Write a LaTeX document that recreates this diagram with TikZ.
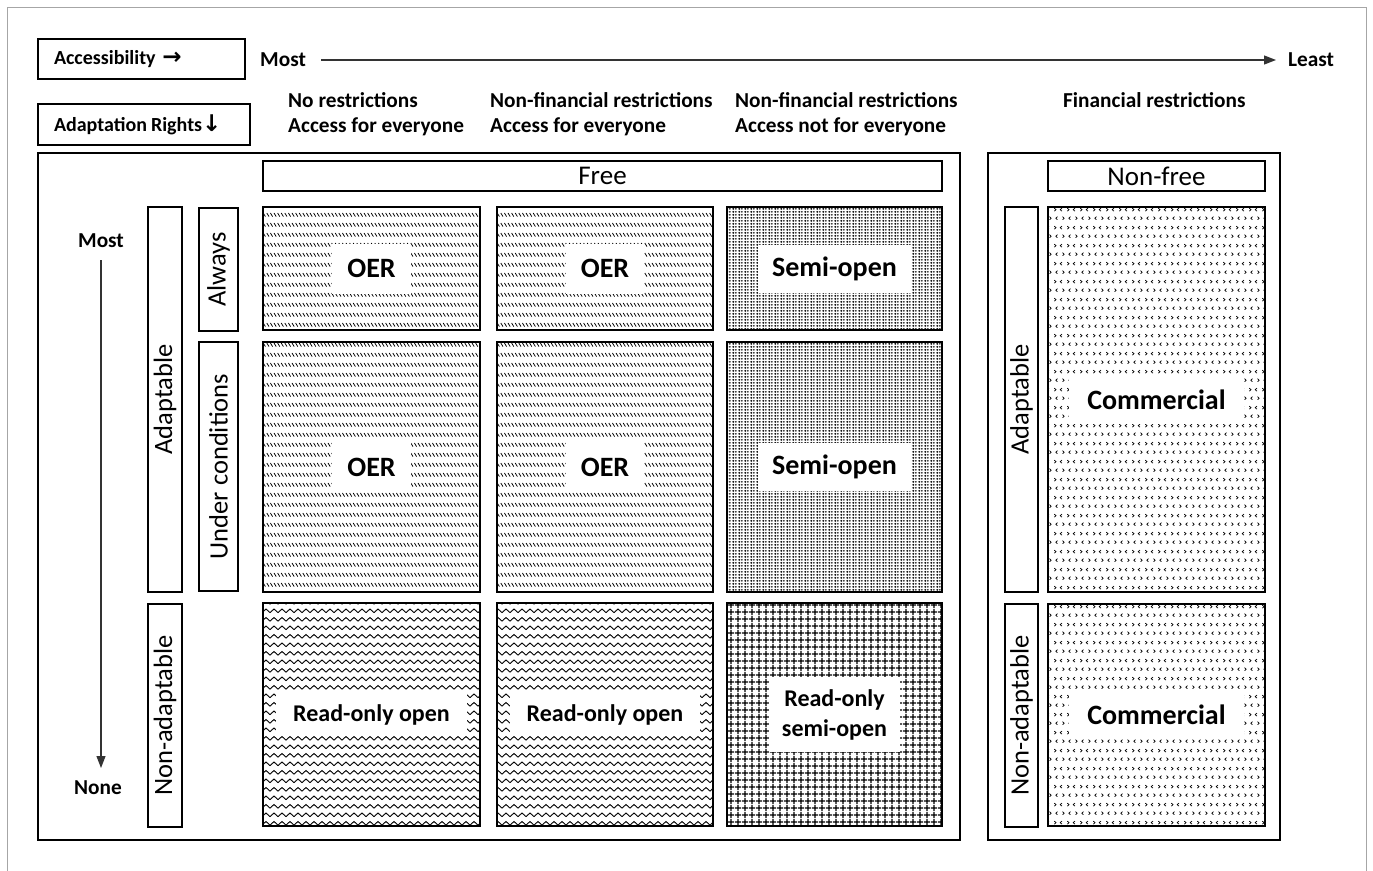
\documentclass[tikz,border=0pt]{standalone}
\usepackage{fontspec}
\setmainfont{Carlito}
\newfontfamily\symfont{DejaVu Sans}
\usetikzlibrary{patterns,arrows.meta}

\pgfdeclarepatternformonly{oerpat}{\pgfqpoint{-1pt}{-1pt}}{\pgfqpoint{5pt}{11pt}}{\pgfqpoint{3.6pt}{10pt}}{
 \pgfsetlinewidth{0.75pt}
 \pgfpathmoveto{\pgfqpoint{0.4pt}{7pt}}
 \pgfpathlineto{\pgfqpoint{2.6pt}{3.4pt}}
 \pgfusepath{stroke}}
\pgfdeclarepatternformonly{semipat}{\pgfqpoint{0pt}{0pt}}{\pgfqpoint{6pt}{3pt}}{\pgfqpoint{6pt}{3pt}}{
 \pgfpathcircle{\pgfqpoint{1.5pt}{1.5pt}}{1.3pt}\pgfusepath{fill}
 \pgfpathcircle{\pgfqpoint{4.5pt}{1.5pt}}{1.1pt}\pgfusepath{fill}}
\pgfdeclarepatternformonly{wavepat}{\pgfqpoint{-1pt}{0pt}}{\pgfqpoint{9pt}{8.5pt}}{\pgfqpoint{8pt}{8.5pt}}{
 \pgfsetlinewidth{0.9pt}
 \pgfpathmoveto{\pgfqpoint{0pt}{4.2pt}}
 \pgfpathcurveto{\pgfqpoint{1.3pt}{6.6pt}}{\pgfqpoint{2.7pt}{6.6pt}}{\pgfqpoint{4pt}{4.2pt}}
 \pgfpathcurveto{\pgfqpoint{5.3pt}{1.8pt}}{\pgfqpoint{6.7pt}{1.8pt}}{\pgfqpoint{8pt}{4.2pt}}
 \pgfusepath{stroke}}
\pgfdeclarepatternformonly{gridpat}{\pgfqpoint{0pt}{0pt}}{\pgfqpoint{6.5pt}{6.5pt}}{\pgfqpoint{6.5pt}{6.5pt}}{
 \pgfsetlinewidth{1.4pt}
 \pgfpathmoveto{\pgfqpoint{3.25pt}{0pt}}\pgfpathlineto{\pgfqpoint{3.25pt}{6.5pt}}
 \pgfpathmoveto{\pgfqpoint{0pt}{3.25pt}}\pgfpathlineto{\pgfqpoint{6.5pt}{3.25pt}}
 \pgfusepath{stroke}}
\pgfdeclarepatternformonly{chevpat}{\pgfqpoint{0pt}{0pt}}{\pgfqpoint{13pt}{18pt}}{\pgfqpoint{13pt}{18pt}}{
 \pgfsetlinewidth{0.75pt}
 \pgfpathmoveto{\pgfqpoint{1.4pt}{14.6pt}}\pgfpathlineto{\pgfqpoint{3.2pt}{13pt}}\pgfpathlineto{\pgfqpoint{1.4pt}{11.4pt}}
 \pgfpathmoveto{\pgfqpoint{9.6pt}{14.6pt}}\pgfpathlineto{\pgfqpoint{7.8pt}{13pt}}\pgfpathlineto{\pgfqpoint{9.6pt}{11.4pt}}
 \pgfpathmoveto{\pgfqpoint{4.8pt}{5.6pt}}\pgfpathlineto{\pgfqpoint{3pt}{4pt}}\pgfpathlineto{\pgfqpoint{4.8pt}{2.4pt}}
 \pgfpathmoveto{\pgfqpoint{10.2pt}{5.6pt}}\pgfpathlineto{\pgfqpoint{12pt}{4pt}}\pgfpathlineto{\pgfqpoint{10.2pt}{2.4pt}}
 \pgfusepath{stroke}}

\begin{document}
\begin{tikzpicture}[x=1pt,y=-1pt,
 box/.style={draw, line width=1.4pt, inner sep=0pt},
 bigbox/.style={draw, line width=2.6pt, inner sep=0pt},
 cell/.style={draw, line width=1.3pt, inner sep=0pt},
 lbl/.style={fill=white, inner xsep=15pt, inner ysep=0pt, minimum height=50pt, font=\fontsize{28}{32}\selectfont\bfseries},
 smlbl/.style={lbl, inner xsep=17pt, minimum height=43pt, font=\fontsize{24}{30}\selectfont\bfseries},
 hdr/.style={anchor=west, inner sep=0pt, font=\fontsize{21.3}{24}\selectfont\bfseries},
 vbox/.style={box, rotate=90, font=\fontsize{26.5}{30}\selectfont},
 tbox/.style={box, align=left, inner xsep=16pt, font=\fontsize{20}{24}\selectfont\bfseries},
 arr/.style={line width=1.2pt, draw=black!80, -{Triangle[length=12pt,width=9pt]}},
]
\useasboundingbox (0,0) rectangle (1373,870);
\draw[gray!70, line width=1pt] (7,890) -- (7,7) -- (1366,7) -- (1366,890);

% top legend
\node[tbox, minimum width=207pt, minimum height=40pt, text width=175pt] (acc) at (141.5,59) {Accessibility {\symfont\bfseries\fontsize{23}{24}\selectfont →}};
\node[tbox, minimum width=212pt, minimum height=41pt, text width=180pt] (adr) at (144,124.5) {Adaptation\hspace{0.2em}Rights{\symfont\bfseries\fontsize{23}{24}\selectfont ↓}};
\node[hdr] (most) at (260,60) {Most};
\node[hdr] (least) at (1288,60) {Least};
\draw[arr] ([xshift=15pt]most.east) -- ([xshift=-12pt]least.west);

\node[hdr] (h1a) at (288,100) {No restrictions};
\node[hdr] (h1b) at (288,127) {Access for everyone};
\node[hdr] (h2a) at (490,100) {Non-financial restrictions};
\node[hdr] (h2b) at (490,127) {Access for everyone};
\node[hdr] (h3a) at (735,100) {Non-financial restrictions};
\node[hdr] (h3b) at (735,127) {Access not for everyone};
\node[hdr] (h4a) at (1063,100) {Financial restrictions};

% big boxes
\node[bigbox, minimum width=922pt, minimum height=687pt] (free) at (499,496.5) {};
\node[bigbox, minimum width=292pt, minimum height=687pt] (nonfree) at (1134,496.5) {};
\node[box, minimum width=679pt, minimum height=30pt, font=\fontsize{27}{30}\selectfont] (freeh) at (602.5,176) {Free};
\node[box, minimum width=217pt, minimum height=30pt, font=\fontsize{27}{30}\selectfont] (nfh) at (1156.5,176) {Non-free};

% vertical axis
\node[hdr, anchor=center] (vmost) at (101,241) {Most};
\node[hdr, anchor=center] (vnone) at (98,788) {None};
\coordinate (vend) at (101,768);
\draw[arr] ([yshift=-12pt]vmost.south) -- (vend);

% vertical category boxes
\node[vbox, minimum width=385pt, minimum height=34pt] (adp) at (165,399.5) {Adaptable};
\node[vbox, minimum width=223pt, minimum height=34pt] (nadp) at (165,715.5) {Non-adaptable};
\node[vbox, minimum width=123pt, minimum height=39pt] (alw) at (218.5,269.5) {Always};
\node[vbox, minimum width=249pt, minimum height=39pt] (uc) at (218.5,466.5) {Under conditions};
\node[vbox, minimum width=385pt, minimum height=33pt] (adp2) at (1021.5,399.5) {Adaptable};
\node[vbox, minimum width=223pt, minimum height=33pt] (nadp2) at (1021.5,715.5) {Non-adaptable};

% cells
\node[cell, pattern=oerpat, minimum width=217pt, minimum height=123pt] (c11) at (371.5,268.5) {};
\node[cell, pattern=oerpat, minimum width=216pt, minimum height=123pt] (c12) at (605,268.5) {};
\node[cell, pattern=semipat, minimum width=215pt, minimum height=123pt] (c13) at (834.5,268.5) {};
\node[cell, pattern=oerpat, minimum width=217pt, minimum height=250pt] (c21) at (371.5,467) {};
\node[cell, pattern=oerpat, minimum width=216pt, minimum height=250pt] (c22) at (605,467) {};
\node[cell, pattern=semipat, minimum width=215pt, minimum height=250pt] (c23) at (834.5,467) {};
\node[cell, pattern=wavepat, minimum width=217pt, minimum height=223pt] (c31) at (371.5,714.5) {};
\node[cell, pattern=wavepat, minimum width=216pt, minimum height=223pt] (c32) at (605,714.5) {};
\node[cell, pattern=gridpat, minimum width=215pt, minimum height=223pt] (c33) at (834.5,714.5) {};
\node[cell, pattern=chevpat, minimum width=217pt, minimum height=385pt] (c14) at (1156.5,399.5) {};
\node[cell, pattern=chevpat, minimum width=217pt, minimum height=222pt] (c24) at (1156.5,715) {};

% labels
\node[lbl] (l11) at (c11) {OER};
\node[lbl] (l12) at (c12) {OER};
\node[lbl, inner xsep=14.5pt, minimum height=48pt] (l13) at (c13) {Semi-open};
\node[lbl] (l21) at (c21) {OER};
\node[lbl] (l22) at (c22) {OER};
\node[lbl, inner xsep=14.5pt, minimum height=48pt] (l23) at (c23) {Semi-open};
\node[smlbl] (l31) at (c31) {Read-only open};
\node[smlbl] (l32) at (c32) {Read-only open};
\node[smlbl, align=center, inner xsep=13pt, minimum height=75pt] (l33) at (c33) {Read-only\\semi-open};
\node[lbl, inner xsep=18pt, minimum height=48pt] (l14) at (c14) {Commercial};
\node[lbl, inner xsep=18pt, minimum height=48pt] (l24) at (c24) {Commercial};
\end{tikzpicture}
\end{document}
